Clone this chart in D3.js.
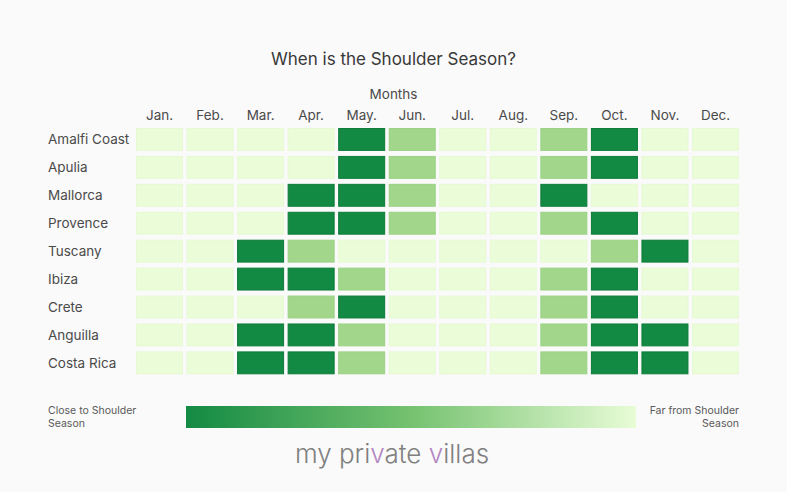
<!DOCTYPE html>
<html>
<head>
<meta charset="utf-8">
<script src="https://cdn.jsdelivr.net/npm/d3@7"></script>
<style>
  html, body { margin: 0; padding: 0; background: #fafafa; }
  svg { display: block; }
  text { font-family: Inter, "Noto Sans", sans-serif; }
</style>
</head>
<body>
<svg id="chart" width="787" height="492"></svg>
<script>
// ---- data ----
const months = ["Jan.", "Feb.", "Mar.", "Apr.", "May.", "Jun.", "Jul.", "Aug.", "Sep.", "Oct.", "Nov.", "Dec."];
const places = ["Amalfi Coast", "Apulia", "Mallorca", "Provence", "Tuscany", "Ibiza", "Crete", "Anguilla", "Costa Rica"];
// closeness to shoulder season: 0 = far, 1 = somewhat, 2 = close
const amalfiCoast = [0, 0, 0, 0, 2, 1, 0, 0, 1, 2, 0, 0];
const apulia      = [0, 0, 0, 0, 2, 1, 0, 0, 1, 2, 0, 0];
const mallorca    = [0, 0, 0, 2, 2, 1, 0, 0, 2, 0, 0, 0];
const provence    = [0, 0, 0, 2, 2, 1, 0, 0, 1, 2, 0, 0];
const tuscany     = [0, 0, 2, 1, 0, 0, 0, 0, 0, 1, 2, 0];
const ibiza       = [0, 0, 2, 2, 1, 0, 0, 0, 1, 2, 0, 0];
const crete       = [0, 0, 0, 1, 2, 0, 0, 0, 1, 2, 0, 0];
const anguilla    = [0, 0, 2, 2, 1, 0, 0, 0, 1, 2, 2, 0];
const costaRica   = [0, 0, 2, 2, 1, 0, 0, 0, 1, 2, 2, 0];
const seriesValues = [amalfiCoast, apulia, mallorca, provence, tuscany, ibiza, crete, anguilla, costaRica];

const title = "When is the Shoulder Season?";
const xTitle = "Months";
const legendLow = ["Close to Shoulder", "Season"];
const legendHigh = ["Far from Shoulder", "Season"];

// ---- drawing ----
const svg = d3.select("#chart");
svg.append("rect").attr("width", 787).attr("height", 492).attr("fill", "#fafafa");

const x = d3.scaleBand().domain(months).range([136, 739]).paddingInner(0.07).paddingOuter(0);
const y = d3.scaleBand().domain(places).range([128, 374.3]).paddingInner(0.18).paddingOuter(0);

const fill = d3.scaleOrdinal().domain([0, 1, 2]).range(["#eafdd8", "#a2d78b", "#138a43"]);
const stroke = d3.scaleOrdinal().domain([0, 1, 2]).range(["#e6f9d3", "#9bd184", "#0d7b39"]);

const cells = [];
places.forEach((p, i) => months.forEach((m, j) => cells.push({ place: p, month: m, v: seriesValues[i][j] })));

svg.append("g").selectAll("rect").data(cells).join("rect")
  .attr("x", d => x(d.month) + 0.5)
  .attr("y", d => y(d.place) + 0.5)
  .attr("width", x.bandwidth() - 1)
  .attr("height", y.bandwidth() - 1)
  .attr("fill", d => fill(d.v))
  .attr("stroke", d => stroke(d.v))
  .attr("stroke-width", 1);

// title
svg.append("text").attr("x", 393.5).attr("y", 64.5).attr("text-anchor", "middle")
  .attr("font-size", 17).attr("fill", "#383838").text(title);

// axis title
svg.append("text").attr("x", 393.5).attr("y", 99).attr("text-anchor", "middle")
  .attr("font-size", 13.5).attr("fill", "#4a4a4a").text(xTitle);

// top axis
const xAxis = svg.append("g").attr("transform", "translate(0,120)")
  .call(d3.axisTop(x).tickSize(0).tickPadding(0));
xAxis.select(".domain").remove();
xAxis.selectAll("text").attr("font-family", "Inter, 'Noto Sans', sans-serif")
  .attr("font-size", 13.5).attr("fill", "#4a4a4a").attr("dy", 0);

// left axis (labels left aligned)
const yAxis = svg.append("g").attr("transform", "translate(48,0.5)")
  .call(d3.axisLeft(y).tickSize(0).tickPadding(0));
yAxis.select(".domain").remove();
yAxis.selectAll("text").attr("font-family", "Inter, 'Noto Sans', sans-serif")
  .attr("font-size", 13.5).attr("fill", "#4a4a4a").attr("text-anchor", "start").attr("x", 0);

// legend
const defs = svg.append("defs");
const grad = defs.append("linearGradient").attr("id", "lg").attr("x1", "0%").attr("x2", "100%");
const gradStops = [
  { o: 0, c: "#138a43" },
  { o: 0.5, c: "#75c270" },
  { o: 1, c: "#e8fcd6" }
];
grad.selectAll("stop").data(gradStops).join("stop")
  .attr("offset", d => d.o).attr("stop-color", d => d.c);

svg.append("rect").attr("x", 186).attr("y", 406).attr("width", 450).attr("height", 22)
  .attr("fill", "url(#lg)");

const lowT = svg.append("text").attr("x", 48).attr("y", 414.3).attr("font-size", 10.5).attr("fill", "#595959");
lowT.selectAll("tspan").data(legendLow).join("tspan")
  .attr("x", 48).attr("dy", (d, i) => i ? 12.5 : 0).text(d => d);
const highT = svg.append("text").attr("x", 739).attr("y", 414.3).attr("font-size", 10.5)
  .attr("fill", "#595959").attr("text-anchor", "end");
highT.selectAll("tspan").data(legendHigh).join("tspan")
  .attr("x", 739).attr("dy", (d, i) => i ? 12.5 : 0).text(d => d);

// logo
const logo = svg.append("text").attr("x", 392).attr("y", 463).attr("text-anchor", "middle")
  .attr("font-family", "Inter, Lato, sans-serif").attr("font-weight", 300)
  .attr("font-size", 26).attr("fill", "#808080");
const logoParts = [["my pri", "#808080"], ["v", "#b385c2"], ["ate ", "#808080"], ["v", "#b385c2"], ["illas", "#808080"]];
logo.selectAll("tspan").data(logoParts).join("tspan").attr("fill", d => d[1]).text(d => d[0]);
</script>
</body>
</html>
